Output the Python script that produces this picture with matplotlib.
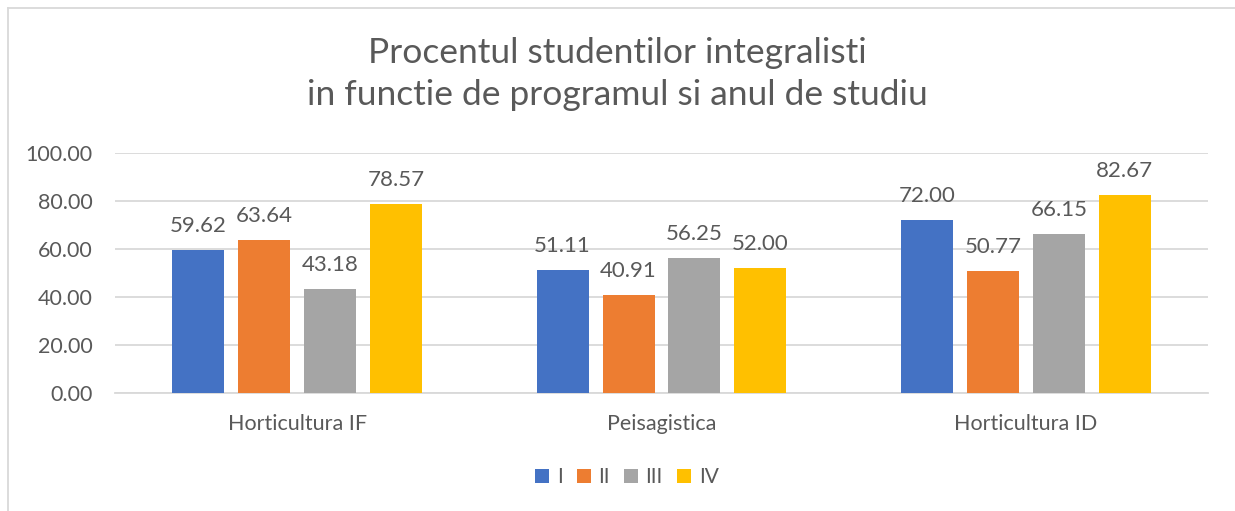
import matplotlib
matplotlib.use("Agg")
import matplotlib.pyplot as plt
import numpy as np
from matplotlib.patches import Patch
from matplotlib.lines import Line2D

categories = ["Horticultura IF", "Peisagistica", "Horticultura ID"]
series_names = ["I", "II", "III", "IV"]
values_I = [59.62, 51.11, 72.00]
values_II = [63.64, 40.91, 50.77]
values_III = [43.18, 56.25, 66.15]
values_IV = [78.57, 52.00, 82.67]
yticks = [0, 20, 40, 60, 80, 100]
title = "Procentul studentilor integralisti\nin functie de programul si anul de studiu"

colors = ["#4472C4", "#ED7D31", "#A5A5A5", "#FFC000"]
text_color = "#595959"
grid_color = "#D9D9D9"

plt.rcParams['font.family'] = ['Lato', 'DejaVu Sans']

fig = plt.figure(figsize=(12.35, 5.11), dpi=100)
ax = fig.add_axes([115/1235, 118/511, 1093/1235, 240/511])

x = np.arange(len(categories))
width = 0.1427
step = 0.181
all_series = [values_I, values_II, values_III, values_IV]
for i, (vals, name, c) in enumerate(zip(all_series, series_names, colors)):
    pos = x + (i - 1.5) * step
    bars = ax.bar(pos, vals, width=width, color=c, label=name, zorder=3)
    for b, v in zip(bars, vals):
        ax.annotate(f"{v:.2f}", (b.get_x() + b.get_width() / 2, v),
                    xytext=(0, 13), textcoords="offset points",
                    ha="center", va="baseline", fontsize=16, color=text_color)

ax.set_xlim(-0.5, len(categories) - 0.5)
ax.set_ylim(0, 100)
ax.set_yticks(yticks)
ax.set_yticklabels([f"{t:.2f}" for t in yticks])
ax.set_xticks(x)
ax.set_xticklabels(categories)
ax.tick_params(axis='y', length=0, pad=16, labelsize=15.5, labelcolor=text_color)
ax.tick_params(axis='x', length=0, pad=15, labelsize=15.5, labelcolor=text_color)
ax.yaxis.grid(True, color=grid_color, linewidth=1.3, zorder=0)
for s in ["top", "right", "left"]:
    ax.spines[s].set_visible(False)
ax.spines["bottom"].set_color(grid_color)
ax.spines["bottom"].set_linewidth(1.3)
ax.set_axisbelow(True)

fig.text(0.5, 1 - 74/511, title, ha="center", va="center", fontsize=25.5,
         color=text_color, linespacing=1.42)

handles = [Patch(facecolor=c, edgecolor='none') for c in colors]
fig.legend(handles, series_names, loc="center", bbox_to_anchor=(627/1235, 34/511),
           ncol=4, frameon=False, fontsize=15, labelcolor=text_color,
           handlelength=0.67, handleheight=0.67, handletextpad=0.35, columnspacing=0.7)

# chart border
fig.add_artist(Line2D([8/1235, 8/1235], [0, 1 - 8/511], transform=fig.transFigure,
                      color=grid_color, linewidth=1.3))
fig.add_artist(Line2D([8/1235, 1], [1 - 8/511, 1 - 8/511], transform=fig.transFigure,
                      color=grid_color, linewidth=1.3))

fig.savefig("out.png", dpi=100)
